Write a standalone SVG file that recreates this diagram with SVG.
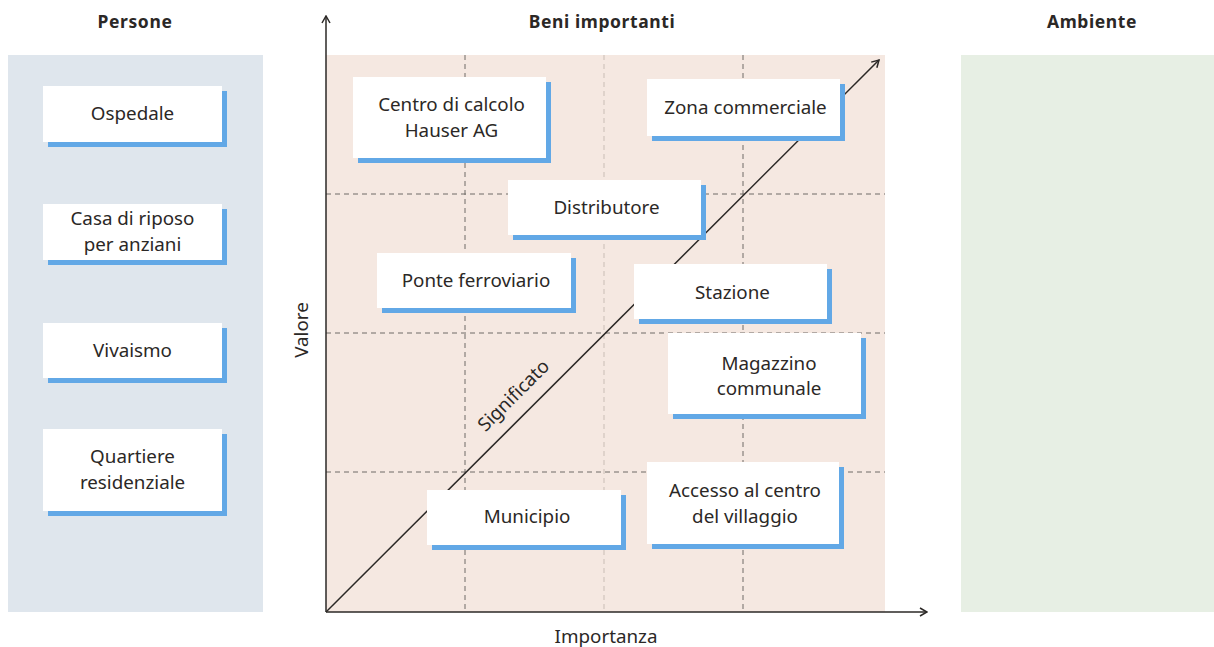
<svg xmlns="http://www.w3.org/2000/svg" width="1214" height="647" viewBox="0 0 1214 647">
<defs>
<style>
.t{font-family:"Noto Sans","Liberation Sans",sans-serif;font-size:18.8px;fill:#2b2826;text-anchor:middle}
.h{font-family:"Noto Sans","Liberation Sans",sans-serif;font-size:17.5px;font-weight:bold;fill:#2b2826;text-anchor:middle;letter-spacing:0.6px}
.sh{fill:#62a8e6}
.bx{fill:#ffffff}
.dash{stroke:#6e6a66;stroke-width:1;stroke-dasharray:5 4;fill:none}
.dashl{stroke:#c9bdb5;stroke-width:1;stroke-dasharray:5 4;fill:none}
.ax{stroke:#2b2826;stroke-width:1.5;fill:none}
</style>
<marker id="arr" viewBox="0 0 10 10" refX="9" refY="5" markerWidth="10" markerHeight="10" markerUnits="userSpaceOnUse" orient="auto">
<path d="M2,1 L9,5 L2,9" fill="none" stroke="#2b2826" stroke-width="1.5"/>
</marker>
</defs>
<rect width="1214" height="647" fill="#ffffff"/>
<g id="panels">
<rect x="8" y="55" width="255" height="557" fill="#dfe6ed"/>
<rect x="326" y="55" width="559" height="557" fill="#f5e8e1"/>
<rect x="961" y="55" width="253" height="557" fill="#e7efe4"/>
</g>
<g id="titles">
<text class="h" x="135" y="28">Persone</text>
<text class="h" x="602" y="28">Beni importanti</text>
<text class="h" x="1092" y="28">Ambiente</text>
</g>
<g id="grid">
<line class="dash" x1="465" y1="55" x2="465" y2="612"/>
<line class="dashl" x1="604" y1="55" x2="604" y2="612"/>
<line class="dash" x1="743" y1="55" x2="743" y2="612"/>
<line class="dash" x1="326" y1="194" x2="885" y2="194"/>
<line class="dash" x1="326" y1="333" x2="885" y2="333"/>
<line class="dash" x1="326" y1="472" x2="885" y2="472"/>
</g>
<g id="connectors">
<line class="ax" x1="326" y1="612" x2="326" y2="16" marker-end="url(#arr)"/>
<line class="ax" x1="326" y1="612" x2="927" y2="612" marker-end="url(#arr)"/>
<line class="ax" x1="326" y1="612" x2="879" y2="60" marker-end="url(#arr)"/>
</g>
<g id="axis-labels">
<text class="t" x="308" y="330" transform="rotate(-90 308 330)">Valore</text>
<text class="t" x="606" y="643">Importanza</text>
<text class="t" x="518" y="400" transform="rotate(-45 518 400)">Significato</text>
</g>
<g id="n-ospedale"><rect class="sh" x="48" y="91" width="179" height="56"/><rect class="bx" x="43" y="86" width="179" height="56"/><text class="t" x="132.5" y="120">Ospedale</text></g>
<g id="n-casa"><rect class="sh" x="48" y="209" width="179" height="56"/><rect class="bx" x="43" y="204" width="179" height="56"/><text class="t" x="132.5" y="225">Casa di riposo</text><text class="t" x="132.5" y="251">per anziani</text></g>
<g id="n-vivaismo"><rect class="sh" x="48" y="328" width="179" height="55"/><rect class="bx" x="43" y="323" width="179" height="55"/><text class="t" x="132.5" y="357">Vivaismo</text></g>
<g id="n-quartiere"><rect class="sh" x="48" y="434" width="179" height="82"/><rect class="bx" x="43" y="429" width="179" height="82"/><text class="t" x="132.5" y="463">Quartiere</text><text class="t" x="132.5" y="489">residenziale</text></g>
<g id="n-centro"><rect class="sh" x="358" y="82" width="193" height="81"/><rect class="bx" x="353" y="77" width="193" height="81"/><text class="t" x="451.5" y="111">Centro di calcolo</text><text class="t" x="451.5" y="137">Hauser AG</text></g>
<g id="n-zona"><rect class="sh" x="652" y="84" width="193" height="57"/><rect class="bx" x="647" y="79" width="193" height="57"/><text class="t" x="745.5" y="114">Zona commerciale</text></g>
<g id="n-distributore"><rect class="sh" x="513" y="185" width="193" height="55"/><rect class="bx" x="508" y="180" width="193" height="55"/><text class="t" x="606.5" y="214">Distributore</text></g>
<g id="n-ponte"><rect class="sh" x="382" y="258" width="194" height="55"/><rect class="bx" x="377" y="253" width="194" height="55"/><text class="t" x="476" y="287">Ponte ferroviario</text></g>
<g id="n-stazione"><rect class="sh" x="639" y="269" width="193" height="55"/><rect class="bx" x="634" y="264" width="193" height="55"/><text class="t" x="732.5" y="299">Stazione</text></g>
<g id="n-magazzino"><rect class="sh" x="673" y="338" width="193" height="81"/><rect class="bx" x="668" y="333" width="193" height="81"/><text class="t" x="769" y="370">Magazzino</text><text class="t" x="769" y="395">communale</text></g>
<g id="n-accesso"><rect class="sh" x="652" y="467" width="192" height="82"/><rect class="bx" x="647" y="462" width="192" height="82"/><text class="t" x="745" y="497">Accesso al centro</text><text class="t" x="745" y="523">del villaggio</text></g>
<g id="n-municipio"><rect class="sh" x="432" y="495" width="194" height="55"/><rect class="bx" x="427" y="490" width="194" height="55"/><text class="t" x="527" y="523">Municipio</text></g>
</svg>
